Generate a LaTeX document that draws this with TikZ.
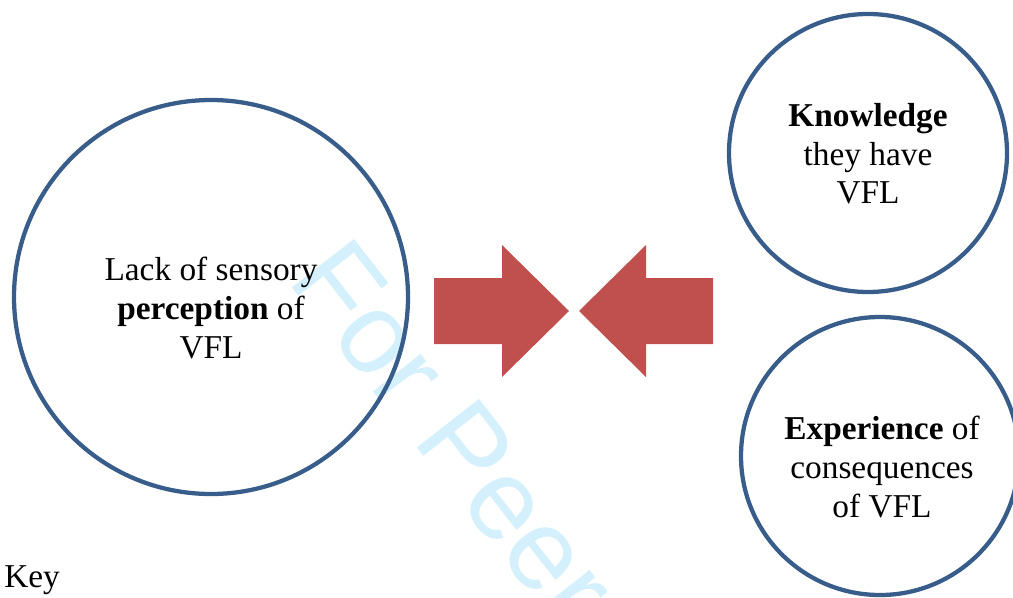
\documentclass[tikz,border=0pt]{standalone}
\usepackage{fontspec}
\setmainfont{Liberation Serif}
\newfontfamily\wmfont{Liberation Sans}
\definecolor{circblue}{RGB}{56,93,138}
\definecolor{arrred}{RGB}{192,80,77}
\definecolor{wmcyan}{RGB}{212,240,252}
\begin{document}
\begin{tikzpicture}[x=0.75pt,y=-0.75pt,
  ring/.style={circle,draw=circblue,line width=3.2pt,inner sep=0pt},
  label text/.style={align=center,font=\fontsize{25}{29}\selectfont,inner sep=0pt},
  blockarrow/.style={fill=arrred,draw=none}]
\useasboundingbox (0,0) rectangle (1013,597);
\clip (0,0) rectangle (1013,597);
% watermark
\node[anchor=base west,rotate=-52,text=wmcyan,inner sep=0pt,font=\wmfont\fontsize{86}{90}\selectfont] (wm) at (286,280) {For Peer};
% circles
\node[ring,minimum size=394*0.75pt] (perc) at (211,297) {};
\node[ring,minimum size=278*0.75pt] (know) at (868,153) {};
\node[ring,minimum size=278*0.75pt] (expe) at (880,456) {};
% texts
\node[label text] (perct) at (211,308) {Lack of sensory\\\textbf{perception} of\\VFL};
\node[label text] (knowt) at (868,154) {\textbf{Knowledge}\\they have\\VFL};
\node[label text] (expet) at (882,467) {\textbf{Experience} of\\consequences\\of VFL};
% arrows
\fill[blockarrow] (434,278) -- (502,278) -- (502,245) -- (569,311) -- (502,377) -- (502,344) -- (434,344) -- cycle;
\fill[blockarrow] (713,278) -- (646,278) -- (646,245) -- (579,311) -- (646,377) -- (646,344) -- (713,344) -- cycle;
% key
\node[anchor=base west,inner sep=0pt,font=\fontsize{25}{29}\selectfont] (key) at (4,587) {Key};
\end{tikzpicture}
\end{document}
